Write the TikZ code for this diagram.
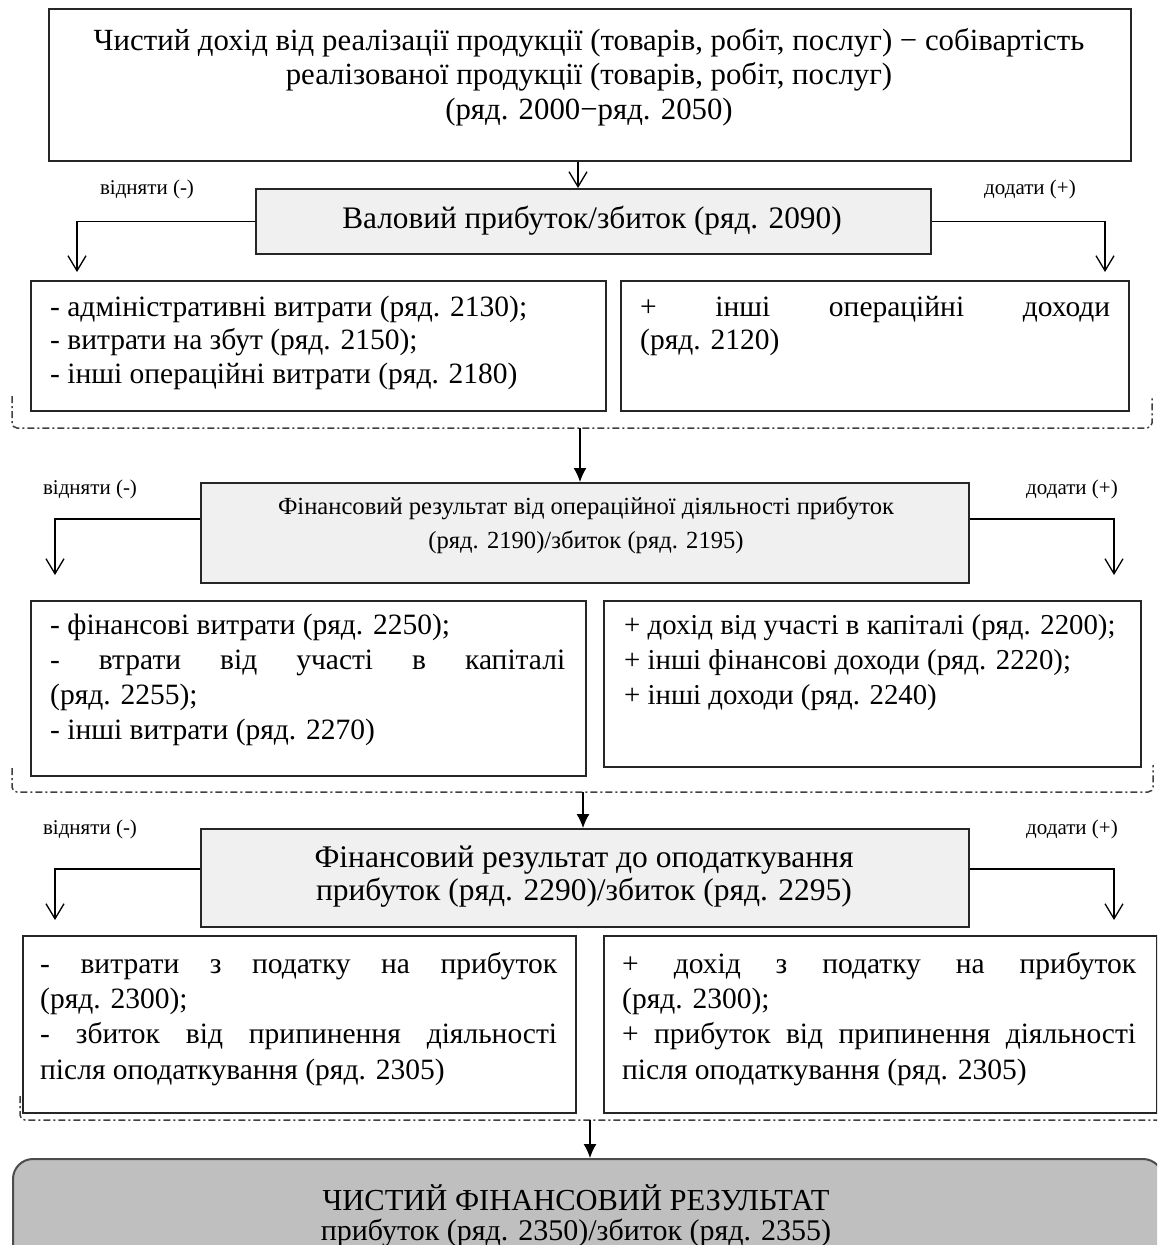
\documentclass[tikz,border=0pt]{standalone}
\usepackage{fontspec}
\setmainfont{Liberation Serif}
\usetikzlibrary{arrows.meta}
\begin{document}
\begin{tikzpicture}[x=1pt,y=-1pt,
  box/.style={draw=black!85, line width=2pt, anchor=north west, inner sep=0pt},
  gbox/.style={box, fill=black!6},
  txt/.style={inner sep=0pt, anchor=north west, align=justify, font=\fontsize{29.5}{33.5}\selectfont},
  ctxt/.style={inner sep=0pt, anchor=north, align=center},
  lab/.style={font=\fontsize{21}{22}\selectfont, inner sep=0pt, anchor=base},
  opn/.style={line width=1.5pt, -{Straight Barb[length=15pt,width=18pt,line width=1.3pt]}},
  fil/.style={line width=1.3pt, -{Latex[length=14pt,width=13pt]}},
  brk/.style={line width=1.5pt, dash pattern=on 7pt off 3pt on 2pt off 3pt, black!75, rounded corners=5pt},
]
\useasboundingbox (0,0) rectangle (1157,1245);
\clip (0,0) rectangle (1157,1245);
\fill[white] (0,0) rectangle (1157,1245);

% boxes
\node[box, minimum width=1082pt, minimum height=152pt] (b1) at (48,8) {};
\node[gbox, minimum width=675pt, minimum height=65pt] (b2) at (255,188) {};
\node[box, minimum width=575pt, minimum height=130pt] (b3l) at (30,280) {};
\node[box, minimum width=508pt, minimum height=130pt] (b3r) at (620,280) {};
\node[gbox, minimum width=768pt, minimum height=100pt] (b4) at (200,482) {};
\node[box, minimum width=555pt, minimum height=175pt] (b5l) at (30,600) {};
\node[box, minimum width=537pt, minimum height=166pt] (b5r) at (603,600) {};
\node[gbox, minimum width=768pt, minimum height=98pt] (b6) at (200,828) {};
\node[box, minimum width=553pt, minimum height=177pt] (b7l) at (22,935) {};
\node[box, minimum width=553pt, minimum height=177pt] (b7r) at (603,935) {};
\node[box, draw=black!70, fill=black!25, rounded corners=20pt, minimum width=1150pt, minimum height=140pt] (b8) at (12,1158) {};

% texts
\node[ctxt, font=\fontsize{30.8}{34.5}\selectfont] (t1) at (589,26) {\strut Чистий дохід від реалізації продукції (товарів, робіт, послуг) − собівартість\\реалізованої продукції (товарів, робіт, послуг)\\(ряд. 2000−ряд. 2050)};
\node[lab, font=\fontsize{31.3}{34.5}\selectfont] (t2) at (592,228) {Валовий прибуток/збиток (ряд. 2090)};
\node[txt, text width=540pt] (t3l) at (50,292.5) {\strut- адміністративні витрати (ряд. 2130);\newline - витрати на збут (ряд. 2150);\newline - інші операційні витрати (ряд. 2180)};
\node[txt, text width=470pt] (t3r) at (640,292.5) {\strut+ інші операційні доходи\linebreak (ряд. 2120)};
\node[ctxt, font=\fontsize{24.6}{34}\selectfont] (t4) at (586,490) {\strut Фінансовий результат від операційної діяльності прибуток\\(ряд. 2190)/збиток (ряд. 2195)};
\node[txt, text width=515pt, font=\fontsize{29.5}{35}\selectfont] (t5l) at (50,609.5) {\strut- фінансові витрати (ряд. 2250);\newline - втрати від участі в капіталі\linebreak (ряд. 2255);\newline - інші витрати (ряд. 2270)};
\node[txt, text width=505pt, font=\fontsize{28.8}{35}\selectfont] (t5r) at (624,609.5) {\strut+ дохід від участі в капіталі (ряд. 2200);\newline + інші фінансові доходи (ряд. 2220);\newline + інші доходи (ряд. 2240)};
\node[ctxt, font=\fontsize{31.5}{33.5}\selectfont] (t6) at (584,843.5) {\strut Фінансовий результат до оподаткування\\прибуток (ряд. 2290)/збиток (ряд. 2295)};
\node[txt, text width=517pt, font=\fontsize{29.5}{35.3}\selectfont] (t7l) at (40,948.3) {\strut- витрати з податку на прибуток\linebreak (ряд. 2300);\newline - збиток від припинення діяльності\linebreak після оподаткування (ряд. 2305)};
\node[txt, text width=514pt, font=\fontsize{29.5}{35.3}\selectfont] (t7r) at (622,948.3) {\strut+ дохід з податку на прибуток\linebreak (ряд. 2300);\newline + прибуток від припинення діяльності\linebreak після оподаткування (ряд. 2305)};
\node[ctxt, font=\fontsize{30.5}{26}\selectfont] (t8) at (576,1184) {\strut ЧИСТИЙ ФІНАНСОВИЙ РЕЗУЛЬТАТ\\{\fontsize{30}{26}\selectfont прибуток (ряд. 2350)/збиток (ряд. 2355)}};

% labels
\node[lab] (m1) at (147,194) {відняти (-)};
\node[lab] (p1) at (1030,194) {додати (+)};
\node[lab] (m2) at (90,494) {відняти (-)};
\node[lab] (p2) at (1072,494) {додати (+)};
\node[lab] (m3) at (90,834) {відняти (-)};
\node[lab] (p3) at (1072,834) {додати (+)};

% connectors
\coordinate (a1) at (578,0);
\draw[opn] (b1.south -| a1) -- (b2.north -| a1);
\coordinate (l1) at (77,272);
\coordinate (r1) at (1105,272);
\draw[opn] (b2.west) -| (l1);
\draw[opn] (b2.east) -| (r1);

\draw[brk] (12,396) -- (12,428) -- (1152,428) -- (1152,396);
\coordinate (k1) at (580,428);
\draw[fil] (k1) -- (k1 |- b4.north);

\coordinate (l2) at (55,575);
\coordinate (r2) at (1114,575);
\draw[opn] ([yshift=14pt]b4.west) -| (l2);
\draw[opn] ([yshift=14pt]b4.east) -| (r2);

\draw[brk] (12,768) -- (12,792) -- (1153,792) -- (1153,765);
\coordinate (k2) at (583,792);
\draw[fil] (k2) -- (k2 |- b6.north);

\coordinate (l3) at (55,920);
\coordinate (r3) at (1114,920);
\draw[opn] ([yshift=9pt]b6.west) -| (l3);
\draw[opn] ([yshift=9pt]b6.east) -| (r3);

\draw[brk] (20,1096) -- (20,1120) -- (1160,1120);
\coordinate (k3) at (590,1120);
\draw[fil] (k3) -- (k3 |- b8.north);
\end{tikzpicture}
\end{document}
